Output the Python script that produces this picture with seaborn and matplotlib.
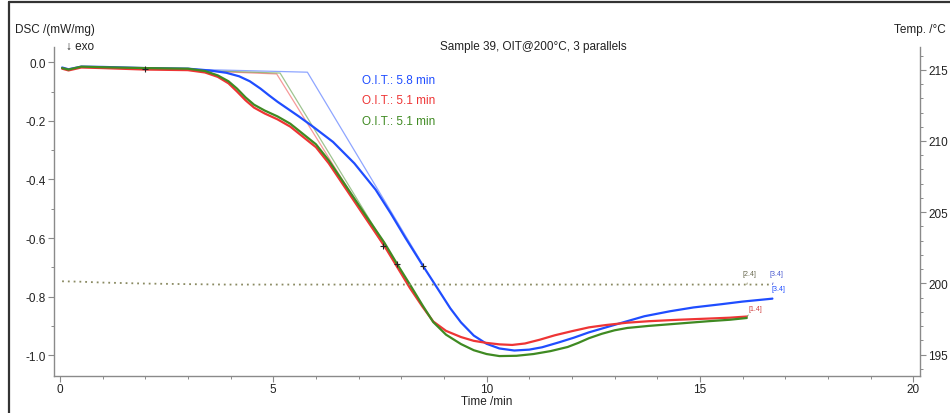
import matplotlib
matplotlib.use("Agg")
import matplotlib.pyplot as plt
import seaborn as sns
import pandas as pd
from matplotlib.ticker import MultipleLocator, FormatStrFormatter
from matplotlib.lines import Line2D

# ---------------- data ----------------
blue_t = [0.05, 0.2, 0.5, 1.0, 2.0, 3.0, 3.5, 3.9, 4.2, 4.45, 4.7, 4.9, 5.1, 5.35, 5.6, 5.95, 6.4,
          6.9, 7.4, 7.75, 8.1, 8.5, 8.85, 9.15, 9.4, 9.7, 10.0, 10.3, 10.65, 11.0, 11.3, 11.7,
          12.05, 12.4, 12.8, 13.2, 13.7, 14.3, 14.85, 15.5, 16.0, 16.7]
blue_dsc = [-0.018, -0.024, -0.015, -0.016, -0.02, -0.022, -0.028, -0.036, -0.048, -0.065, -0.09,
            -0.113, -0.135, -0.16, -0.185, -0.222, -0.272, -0.345, -0.435, -0.515, -0.6, -0.693,
            -0.772, -0.84, -0.888, -0.933, -0.961, -0.977, -0.984, -0.981, -0.973, -0.956, -0.94,
            -0.922, -0.905, -0.888, -0.867, -0.85, -0.837, -0.826, -0.817, -0.807]

red_t = [0.05, 0.2, 0.5, 1.0, 2.0, 3.0, 3.4, 3.7, 3.95, 4.15, 4.35, 4.55, 4.8, 5.1, 5.4, 5.7, 6.0,
         6.3, 6.6, 6.9, 7.2, 7.6, 7.95, 8.2, 8.5, 8.75, 9.05, 9.4, 9.7, 10.0, 10.3, 10.6, 10.9,
         11.25, 11.6, 12.0, 12.4, 12.8, 13.3, 13.8, 14.5, 15.2, 15.7, 16.1]
red_dsc = [-0.022, -0.028, -0.018, -0.02, -0.025, -0.027, -0.035, -0.05, -0.072, -0.1, -0.13,
           -0.155, -0.175, -0.195, -0.22, -0.255, -0.29, -0.345, -0.41, -0.475, -0.54, -0.626,
           -0.71, -0.77, -0.835, -0.885, -0.917, -0.938, -0.951, -0.958, -0.963, -0.965, -0.96,
           -0.947, -0.932, -0.918, -0.905, -0.897, -0.889, -0.884, -0.879, -0.875, -0.872, -0.868]

green_t = [0.05, 0.2, 0.5, 1.0, 2.0, 3.0, 3.4, 3.7, 3.95, 4.15, 4.35, 4.55, 4.8, 5.1, 5.4, 5.7,
           6.0, 6.3, 6.6, 6.9, 7.2, 7.6, 7.9, 8.2, 8.5, 8.75, 9.05, 9.4, 9.7, 10.0, 10.3, 10.7,
           11.1, 11.5, 11.9, 12.15, 12.4, 12.7, 13.0, 13.3, 13.8, 14.5, 15.2, 15.7, 16.1]
green_dsc = [-0.02, -0.025, -0.015, -0.017, -0.02, -0.022, -0.03, -0.045, -0.065, -0.09, -0.12,
             -0.145, -0.165, -0.185, -0.21, -0.245, -0.28, -0.335, -0.4, -0.465, -0.53, -0.615,
             -0.688, -0.758, -0.83, -0.887, -0.93, -0.962, -0.983, -0.996, -1.003, -1.002,
             -0.996, -0.986, -0.972, -0.958, -0.942, -0.927, -0.915, -0.907, -0.9, -0.892,
             -0.884, -0.879, -0.873]

# onset constructions (baseline point, onset point, tangent point)
blue_tan_t = [2.0, 5.8, 8.52]
blue_tan_dsc = [-0.02, -0.034, -0.694]
red_tan_t = [2.0, 5.08, 7.58]
red_tan_dsc = [-0.022, -0.04, -0.626]
green_tan_t = [2.0, 5.16, 7.89]
green_tan_dsc = [-0.022, -0.037, -0.688]

marker_t = [2.0, 7.58, 7.89, 8.52]
marker_dsc = [-0.022, -0.626, -0.688, -0.694]

temp_t = [0.05, 0.5, 1.0, 2.0, 3.0, 3.9, 6.0, 10.0, 14.0, 16.7]
temp_c = [200.15, 200.12, 200.06, 199.99, 199.95, 199.92, 199.92, 199.92, 199.92, 199.92]

oit_labels = ["O.I.T.: 5.8 min", "O.I.T.: 5.1 min", "O.I.T.: 5.1 min"]
samples = ["blue", "red", "green"]
colors = {"blue": "#1f4dff", "red": "#ee3535", "green": "#3f8a22"}

# ---------------- figure ----------------
sns.set_style("ticks")
plt.rcParams["font.family"] = ["Liberation Sans", "DejaVu Sans"]
plt.rcParams["axes.unicode_minus"] = False
plt.rcParams["lines.solid_joinstyle"] = "round"

fig = plt.figure(figsize=(9.5, 4.14), dpi=100)
ax = fig.add_axes([54 / 950, 1 - 377 / 414, (920 - 54) / 950, (377 - 48) / 414])

df = pd.concat([
    pd.DataFrame({"t": blue_t, "dsc": blue_dsc, "s": "blue"}),
    pd.DataFrame({"t": red_t, "dsc": red_dsc, "s": "red"}),
    pd.DataFrame({"t": green_t, "dsc": green_dsc, "s": "green"}),
])
tan = pd.concat([
    pd.DataFrame({"t": blue_tan_t, "dsc": blue_tan_dsc, "s": "blue"}),
    pd.DataFrame({"t": red_tan_t, "dsc": red_tan_dsc, "s": "red"}),
    pd.DataFrame({"t": green_tan_t, "dsc": green_tan_dsc, "s": "green"}),
])

sns.lineplot(data=tan, x="t", y="dsc", hue="s", palette=colors, sort=False, estimator=None,
             legend=False, ax=ax, linewidth=0.9, alpha=0.5)
sns.lineplot(data=df, x="t", y="dsc", hue="s", palette=colors, sort=False, estimator=None,
             legend=False, ax=ax, linewidth=1.6)
sns.scatterplot(x=marker_t, y=marker_dsc, marker="+", color="#222222", s=22, linewidth=0.8,
                ax=ax, zorder=5)

ax.set_xlim(-0.14, 20.16)
ax.set_ylim(-1.071, 0.052)
ax.xaxis.set_major_locator(MultipleLocator(5))
ax.xaxis.set_minor_locator(MultipleLocator(1))
ax.yaxis.set_major_locator(MultipleLocator(0.2))
ax.yaxis.set_minor_locator(MultipleLocator(0.1))
ax.yaxis.set_major_formatter(FormatStrFormatter("%.1f"))
ax.set_xlabel("")
ax.set_ylabel("")

spine_c = "#8a8a8a"
for side in ["left", "bottom"]:
    ax.spines[side].set_color(spine_c)
    ax.spines[side].set_linewidth(1.0)
ax.spines["top"].set_visible(False)
ax.spines["right"].set_visible(False)
ax.tick_params(which="major", length=4, width=0.8, color=spine_c, labelsize=8.5,
               labelcolor="#222222", pad=2)
ax.tick_params(axis="x", which="major", pad=1)
ax.tick_params(which="minor", length=2.5, width=0.7, color=spine_c)

# temperature axis
ax2 = ax.twinx()
sns.lineplot(x=temp_t, y=temp_c, ax=ax2, color="#8a8a62", linewidth=1.3,
             linestyle=(0, (1, 2.2)))
ax2.set_ylim(193.5, 216.6)
ax2.yaxis.set_major_locator(MultipleLocator(5))
ax2.yaxis.set_minor_locator(MultipleLocator(1))
for side in ["left", "top", "bottom"]:
    ax2.spines[side].set_visible(False)
ax2.spines["right"].set_color(spine_c)
ax2.spines["right"].set_linewidth(1.0)
ax2.tick_params(which="major", length=4, width=0.8, color=spine_c, labelsize=8.5,
                labelcolor="#222222", pad=2)
ax2.tick_params(which="minor", length=2.5, width=0.7, color=spine_c)
ax2.set_ylabel("")

# texts
fig.text(15 / 950, 1 - 30 / 414, "DSC /(mW/mg)", fontsize=8.5, color="#222222", va="center", ha="left")
fig.text(66 / 950, 1 - 47 / 414, "↓ exo", fontsize=8.5, color="#222222", va="center", ha="left")
fig.text(533 / 950, 1 - 47 / 414, "Sample 39, OIT@200°C, 3 parallels", fontsize=8.5,
         color="#222222", va="center", ha="center")
fig.text(946 / 950, 1 - 30 / 414, "Temp. /°C", fontsize=8.5, color="#222222", va="center", ha="right")
fig.text(487 / 950, 1 - 402 / 414, "Time /min", fontsize=8.5, color="#222222", va="center", ha="center")

for lbl, s, yy in zip(oit_labels, samples, [-0.06, -0.129, -0.2]):
    ax.text(7.08, yy, lbl, color=colors[s], fontsize=8.5, va="center", ha="left")

# end labels
ax2.annotate("[2.4]", xy=(16.1, 199.92), xytext=(2, 8), textcoords="offset points",
             fontsize=5, color="#6a6a50", ha="center", va="center",
             arrowprops=dict(arrowstyle="-", lw=0.6, color="#8a8a62", shrinkA=2, shrinkB=0))
ax2.annotate("[3.4]", xy=(16.7, 199.92), xytext=(3, 8), textcoords="offset points",
             fontsize=5, color="#4a5ad0", ha="center", va="center",
             arrowprops=dict(arrowstyle="-", lw=0.6, color="#4a5ad0", shrinkA=2, shrinkB=0))
ax.annotate("[3.4]", xy=(blue_t[-1], blue_dsc[-1]), xytext=(4, 7), textcoords="offset points",
            fontsize=5, color="#1f4dff", ha="center", va="center",
            arrowprops=dict(arrowstyle="-", lw=0.6, color="#1f4dff", shrinkA=2, shrinkB=0))
ax.annotate("[1.4]", xy=(red_t[-1], red_dsc[-1]), xytext=(6, 6), textcoords="offset points",
            fontsize=5, color="#d04040", ha="center", va="center",
            arrowprops=dict(arrowstyle="-", lw=0.6, color="#70a060", shrinkA=2, shrinkB=0))

# outer frame (left and top edges)
fig.add_artist(Line2D([9 / 950, 9 / 950], [0, 1 - 3 / 414], transform=fig.transFigure,
                      color="#333333", lw=1.6))
fig.add_artist(Line2D([9 / 950, 1], [1 - 3 / 414, 1 - 3 / 414], transform=fig.transFigure,
                      color="#333333", lw=1.6))

fig.savefig("out.png", dpi=100)
